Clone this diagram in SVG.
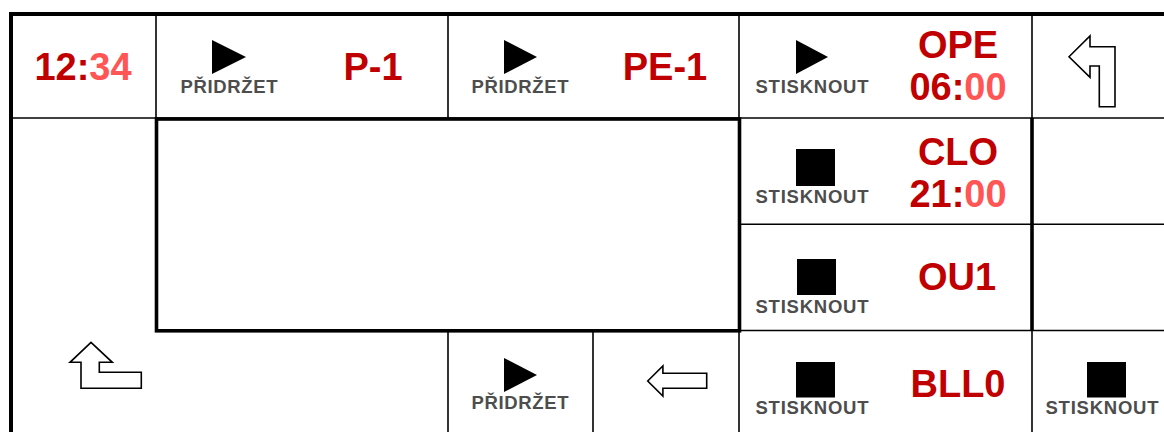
<svg xmlns="http://www.w3.org/2000/svg" width="1164" height="432" viewBox="0 0 1164 432">
<style>
.thin{stroke:#000;stroke-width:1.6;fill:none}
.thick{stroke:#000;stroke-width:3.6;fill:none}
.outer{stroke:#000;stroke-width:4;fill:none}
.big{font-family:"Liberation Sans",Arial,sans-serif;font-weight:bold;font-size:38px;fill:#c00000;text-anchor:middle}
.lt{fill:#ff5555}
.lbl{font-family:"Liberation Sans",Arial,sans-serif;font-weight:bold;font-size:18.5px;fill:#4d4d4d;text-anchor:middle}
.icon{fill:#000}
.arrow{fill:#fff;stroke:#000;stroke-width:1.6;stroke-linejoin:miter}
</style>
<rect width="1164" height="432" fill="#fff"/>
<g id="connectors">
<line class="thin" x1="156" y1="14" x2="156" y2="118"/>
<line class="thin" x1="448" y1="14" x2="448" y2="118"/>
<line class="thin" x1="739" y1="14" x2="739" y2="118"/>
<line class="thin" x1="1032" y1="14" x2="1032" y2="118"/>
<line class="thin" x1="11" y1="118" x2="1164" y2="118"/>
<line class="thin" x1="739" y1="224.3" x2="1164" y2="224.3"/>
<line class="thin" x1="739" y1="330.5" x2="1164" y2="330.5"/>
<line class="thin" x1="448" y1="331" x2="448" y2="432"/>
<line class="thin" x1="593" y1="331" x2="593" y2="432"/>
<line class="thin" x1="739" y1="331" x2="739" y2="432"/>
<line class="thin" x1="1032" y1="331" x2="1032" y2="432"/>
<rect class="thick" x="156.5" y="119" width="583" height="211.8"/>
<line class="thick" x1="1032" y1="118" x2="1032" y2="331"/>
<line class="outer" x1="9" y1="14" x2="1164" y2="14"/>
<line class="outer" x1="11" y1="12" x2="11" y2="432"/>
</g>
<g id="clock">
<text class="big" x="83" y="80">12:<tspan class="lt">34</tspan></text>
</g>
<g id="p1">
<polygon class="icon" points="212,40 212,74 246,57"/>
<text class="lbl" x="229" y="92.5" textLength="97" lengthAdjust="spacing">PŘIDRŽET</text>
<text class="big" x="373" y="80">P-1</text>
</g>
<g id="pe1">
<polygon class="icon" points="504,40 504,74 537,57"/>
<text class="lbl" x="520" y="92.5" textLength="97" lengthAdjust="spacing">PŘIDRŽET</text>
<text class="big" x="665" y="80">PE-1</text>
</g>
<g id="ope">
<polygon class="icon" points="796,40 796,74 828,57"/>
<text class="lbl" x="812" y="92.7" textLength="113" lengthAdjust="spacing">STISKNOUT</text>
<text class="big" x="958" y="58">OPE</text>
<text class="big" x="958" y="100">06:<tspan class="lt">00</tspan></text>
</g>
<g id="back">
<polygon class="arrow" points="1069,56.7 1090,36 1090,46.7 1115,46.7 1115,106.7 1099.3,106.7 1099.3,66 1090,66 1090,77.3"/>
</g>
<g id="clo">
<rect class="icon" x="796" y="149" width="39" height="37"/>
<text class="lbl" x="812" y="202.7" textLength="113" lengthAdjust="spacing">STISKNOUT</text>
<text class="big" x="958" y="165">CLO</text>
<text class="big" x="958" y="207.3">21:<tspan class="lt">00</tspan></text>
</g>
<g id="ou1">
<rect class="icon" x="797" y="259" width="39" height="36"/>
<text class="lbl" x="812" y="313.3" textLength="113" lengthAdjust="spacing">STISKNOUT</text>
<text class="big" x="957" y="290">OU1</text>
</g>
<g id="home">
<polygon class="arrow" points="91,342.3 112.3,362.3 99.3,362.3 99.3,372.3 141.3,372.3 141.3,388.3 81,388.3 81,362.3 70,362.3"/>
</g>
<g id="play-bottom">
<polygon class="icon" points="504,358 504,392 537,375"/>
<text class="lbl" x="520" y="409.3" textLength="97" lengthAdjust="spacing">PŘIDRŽET</text>
</g>
<g id="left">
<polygon class="arrow" points="647.7,381 662.9,366 662.9,373.3 706.7,373.3 706.7,388.3 662.9,388.3 662.9,396"/>
</g>
<g id="bll0">
<rect class="icon" x="796" y="362" width="39" height="35.5"/>
<text class="lbl" x="812" y="414.3" textLength="113" lengthAdjust="spacing">STISKNOUT</text>
<text class="big" x="958" y="397.3">BLL0</text>
</g>
<g id="stop">
<rect class="icon" x="1087" y="362" width="39" height="35.5"/>
<text class="lbl" x="1102" y="414.3" textLength="113" lengthAdjust="spacing">STISKNOUT</text>
</g>
</svg>
